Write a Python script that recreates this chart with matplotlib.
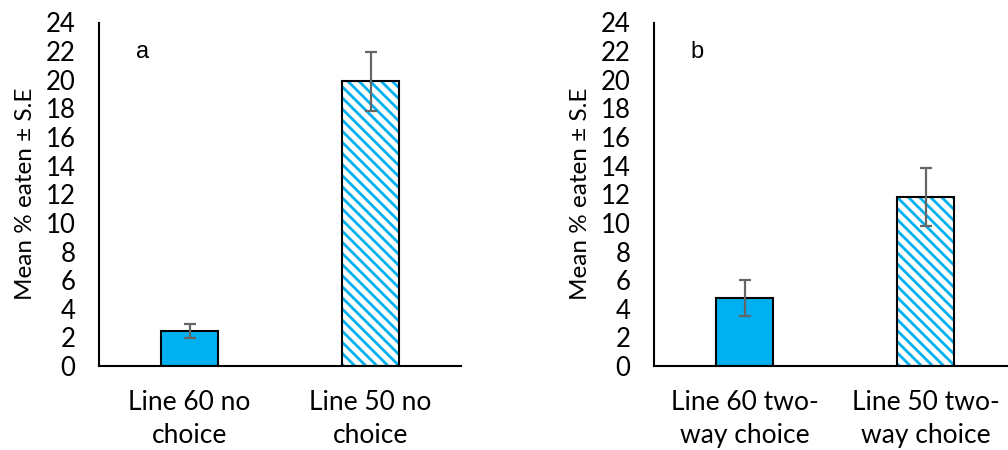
import matplotlib.pyplot as plt

# values
labels_a = ["Line 60 no\nchoice", "Line 50 no\nchoice"]
means_a = [2.45, 19.9]
se_a = [0.5, 2.05]

labels_b = ["Line 60 two-\nway choice", "Line 50 two-\nway choice"]
means_b = [4.73, 11.8]
se_b = [1.25, 2.0]

blue = "#00B0F0"
plt.rcParams['font.family'] = ['Lato', 'DejaVu Sans']
plt.rcParams['hatch.linewidth'] = 2.0

fig = plt.figure(figsize=(10.08, 4.5), dpi=100)


def panel(ax, labels, means, se, letter):
    x = [0, 1]
    # solid bar
    ax.bar(x[0], means[0], width=0.32, color=blue, edgecolor="black", linewidth=1.5, zorder=2)
    # hatched bar: hatch first, then black outline on top
    ax.bar(x[1], means[1], width=0.32, color="white", edgecolor=blue, hatch="\\\\\\",
           linewidth=0, zorder=2)
    ax.bar(x[1], means[1], width=0.32, fill=False, edgecolor="black", linewidth=1.5, zorder=3)
    ax.errorbar(x, means, yerr=se, fmt="none", ecolor="#666666", elinewidth=1.6,
                capsize=4.3, capthick=1.6, zorder=4)

    ax.set_xlim(-0.5, 1.5)
    ax.set_ylim(0, 24)
    ax.set_yticks(range(0, 25, 2))
    ax.set_xticks(x)
    ax.set_xticklabels(labels, fontsize=19, linespacing=1.4)
    ax.tick_params(axis="y", length=0, pad=17, labelsize=18.5)
    ax.tick_params(axis="x", length=0, pad=17)
    for s in ["top", "right"]:
        ax.spines[s].set_visible(False)
    ax.spines["left"].set_linewidth(1.5)
    ax.spines["bottom"].set_linewidth(1.5)
    ax.set_ylabel("Mean % eaten ± S.E", fontsize=17.5)
    ax.yaxis.set_label_coords(-0.175, 0.5)
    ax.text(0.12, 0.915, letter, transform=ax.transAxes, fontsize=17,
            family="Liberation Sans", va="center", ha="center")


ax1 = fig.add_axes([99 / 1008, 84 / 450, 362 / 1008, 343.5 / 450])
panel(ax1, labels_a, means_a, se_a, "a")

ax2 = fig.add_axes([654 / 1008, 84 / 450, 362 / 1008, 343.5 / 450])
panel(ax2, labels_b, means_b, se_b, "b")

fig.savefig("out.png", dpi=100)
